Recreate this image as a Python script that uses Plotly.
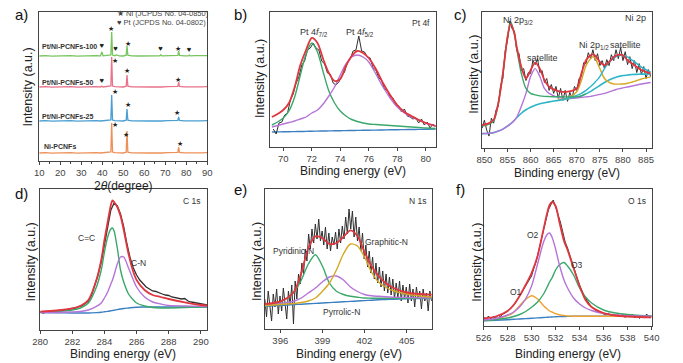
import numpy as np
import plotly.graph_objects as go

W, H = 683, 363

# ---------------- (a) XRD ----------------
XRD_2THETA = [10, 13, 16, 19, 22, 25, 28, 31, 34, 37, 39.2, 39.8, 40.4, 42, 44.1, 44.5, 44.9, 46, 46.8, 48,
              50, 51.4, 51.8, 52.2, 54, 57, 60, 63, 66, 67.4, 67.9, 68.4, 71, 74, 76.0, 76.4, 76.8, 79,
              81.0, 81.5, 82.0, 84, 87, 90]
XRD_NI = [8, 8.3, 7.8, 8.2, 8, 8.4, 7.9, 8.2, 8, 8.3, 8, 8.2, 8, 8.3, 9, 38, 9, 8.3, 8, 8.2,
          8, 8.8, 30, 8.8, 8.2, 8, 8.3, 8, 8.2, 8, 8.2, 8, 8.3, 8.1, 8.6, 14, 8.6, 8.2,
          8, 8.2, 8, 8.3, 8.1, 8.4]
XRD_25 = [40, 40.3, 39.8, 40.2, 40, 40.4, 39.9, 40.2, 40, 40.3, 40, 40.2, 40, 40.3, 41, 66, 41, 40.3, 40, 40.2,
          40, 40.8, 52, 40.8, 40.2, 40, 40.3, 40, 40.2, 40, 40.2, 40, 40.3, 40.1, 40.6, 44, 40.6, 40.2,
          40, 40.2, 40, 40.3, 40.1, 40.4]
XRD_50 = [74, 74.3, 73.8, 74.2, 74, 74.4, 73.9, 74.2, 74, 74.3, 74, 75, 74, 74.3, 75, 104, 75, 74.3, 74, 74.2,
          74, 74.8, 86, 74.8, 74.2, 74, 74.3, 74, 74.2, 74, 74.2, 74, 74.3, 74.1, 74.6, 79, 74.6, 74.2,
          74, 74.2, 74, 74.3, 74.1, 74.4]
XRD_100 = [105, 105.3, 104.8, 105.2, 105, 105.4, 104.9, 105.2, 105, 105.3, 105.2, 109, 105.2, 105.3, 106, 129, 106, 105.3, 106, 105.2,
           105, 105.8, 115, 105.8, 105.2, 105, 105.3, 105, 105.2, 105.1, 106.2, 105.1, 105.3, 105.1, 105.6, 110, 105.6, 105.2,
           105.1, 106, 105.1, 105.3, 105.1, 105.4]
XRD_NAMES = ["Ni-PCNFs", "Pt/Ni-PCNFs-25", "Pt/Ni-PCNFs-50", "Pt/Ni-PCNFs-100"]
XRD_COLORS = ["#ee9158", "#4b9fd2", "#e8738b", "#78c560"]
# reflection markers: (2theta, height)
NI_STARS = [(46.3, 36), (51.4, 26), (76.8, 17), (46.3, 69), (52.3, 56), (75.4, 48),
            (46.3, 100), (51.7, 90), (76.0, 81), (44.4, 132), (52.2, 117), (76.0, 112)]
PT_HEARTS = [(39.8, 80), (39.8, 115), (46.3, 112), (67.7, 112), (81.3, 111)]

# ---------------- (b) Pt 4f ----------------
B_RAW_START, B_RAW_STEP = 69.3, 0.2
B_RAW = [18, 13, 24, 25, 32, 34, 47, 53, 64, 70, 82, 86, 97, 99, 104, 99, 97, 86, 83, 74, 73, 64, 62, 65,
         71, 75, 85, 88, 96, 97, 111, 96, 95, 90, 89, 79, 77, 69, 67, 58, 57, 50, 49, 42, 41, 35, 38, 31,
         30, 28, 29, 24, 28, 22, 25, 19, 23, 20]
B_X = [69.2, 69.6, 70, 70.4, 70.8, 71.2, 71.6, 72.0, 72.4, 72.8, 73.2, 73.6, 74, 74.4, 74.8, 75.2, 75.6, 76,
       76.5, 77, 77.5, 78, 78.5, 79, 79.5, 80, 80.7]
B_BG = [15, 15.1, 15.2, 15.3, 15.4, 15.5, 15.6, 15.8, 15.9, 16.0, 16.1, 16.2, 16.3, 16.4, 16.5, 16.6, 16.7, 16.8,
        16.9, 17.0, 17.2, 17.3, 17.4, 17.5, 17.6, 17.8, 18]
B_P72 = [22, 25, 29, 36, 50, 72, 93, 104, 95, 75, 56, 44, 36, 31, 27.5, 25.5, 24, 23, 22.5, 22, 21.5, 21, 20.5,
         20, 19.5, 19, 18.5]
B_P75 = [20, 21.5, 23, 24.5, 26, 28, 30, 34, 37, 43, 51, 60, 72, 83, 90, 92, 90, 85, 73, 60, 49, 40, 34, 30,
         27, 24, 21]
B_FIT = [30, 33, 37, 44, 60, 82, 97, 109, 104, 88, 74, 66, 68, 81, 91, 96, 94, 89, 78, 64, 52, 42, 35, 31,
         27, 24, 21]

# ---------------- (c) Ni 2p ----------------
C_RAW_START, C_RAW_STEP = 849.5, 0.5
C_RAW = [20, 28, 18, 12, 30, 25, 38, 42, 63, 70, 98, 108, 128, 120, 118, 98, 95, 78, 80, 68, 76, 75, 88, 84,
         90, 76, 78, 66, 70, 58, 64, 55, 62, 50, 60, 48, 58, 47, 56, 50, 62, 58, 70, 72, 86, 85, 96, 90,
         99, 88, 95, 83, 88, 80, 89, 83, 94, 88, 99, 90, 101, 88, 97, 84, 92, 80, 88, 76, 85, 74, 82, 70,
         79, 72]
C_X = [849.5, 851, 852, 853, 854, 855, 855.7, 856.5, 857, 858, 859, 860, 861, 862, 863, 864, 866, 868, 870,
       871, 872, 873, 873.5, 874, 875, 876, 877, 878, 879, 879.5, 880, 881, 882, 883, 884, 886]
C_BG = [14.5, 14.8, 15.5, 17, 19, 22, 24.5, 28, 30.5, 35, 38.5, 41, 43, 44.5, 45.5, 46.5, 48, 49.5, 51,
        52.5, 54.5, 57, 58.5, 60, 63, 66, 68.5, 70.5, 72, 72.5, 73, 73.5, 74, 74.2, 74.4, 74.5]
C_P856 = [22, 24, 27, 45, 75, 112, 127, 115, 100, 75, 60, 55, 53.5, 52.5, 52, 51.8, 51.6, 51.5, 51.5,
          52.5, 54.5, None, None, None, None, None, None, None, None, None, None, None, None, None, None, None]
C_P861 = [14.5, 14.8, 15.5, 17, 19, 22, 24.5, 28, 31, 42, 55, 72, 80, 72, 60, 55, 51, 50, 50.5,
          51, 51.5, 52, 52.5, 53, 54, 55, 56.5, 58, 59.5, 60, 60.5, 61.5, 62.5, 63.5, 64.5, 66]
C_P873 = [None, None, None, None, None, None, None, None, None, None, None, None, None, None, None, None, 49, 50, 56.7,
          68, 83, 90, 92, 90, 80, 70, 66, 64.5, 64.3, 64.4, 64.5, 65.2, 66.5, 68, 69.5, 71.7]
C_P880 = [None, None, None, None, None, None, None, None, None, None, None, None, None, None, None, None, 48, 50, 53,
          55, 58, 62, 64, 66.5, 72, 80, 86, 90.5, 93, 93.4, 93.2, 91.7, 88.5, 85, 81.5, 76.5]
C_FIT = [23, 25, 28.4, 45, 75, 111.7, 125, 115, 101.7, 81.7, 70, 78.4, 86, 80, 68.4, 61.7, 57.4, 56.7, 60,
         75, 88.4, 93.5, 94.4, 93, 86.7, 83.4, 86.7, 91.7, 93.8, 94, 93.5, 88.4, 85, 81.7, 78.5, 75]

# ---------------- (d) C 1s ----------------
D_RAW_START, D_RAW_STEP = 280.0, 0.2
D_RAW = [18, 17, 18.5, 17.5, 19, 18.5, 19.5, 20, 19.5, 21, 21.5, 22, 23.5, 24, 26.5, 29, 35, 44, 55, 68,
         86, 104, 120, 127, 124, 116, 103, 86, 72, 62, 55, 50, 46, 43, 41, 39, 38.5, 37, 36, 35,
         34.5, 33, 32.5, 32, 31, 31.5, 29, 28, 27.5, 26.5, 26, 25.5, 25]
D_X = [280, 281, 282, 282.5, 283, 283.5, 283.8, 284, 284.2, 284.4, 284.5, 284.6, 284.8, 285, 285.2, 285.5,
       285.8, 286, 286.5, 287, 287.5, 288, 289, 290, 290.4]
D_BG = [17.4, 17.2, 17, 17, 17, 17.4, 17.8, 18.2, 18.6, 19.2, 19.5, 19.8, 20.4, 21, 21.5, 22, 22.5, 22.7,
        23, 23, 23, 23, 23, 23, 23]
D_CC = [18, 18.5, 20, 22, 27, 43, 60, 78, 93, 101, 102, 99, 82, 60, 48, 36, 30, 27, 24, 22.5, 22, 22, 22.5,
        23, 23]
D_CN = [17.4, 17.5, 18, 18.5, 20, 23.6, 27, 32, 38, 46, 50, 55, 66, 73, 73, 62, 50, 43, 33, 28, 26, 24.5,
        24, 23.7, 23.5]
D_FIT = [18.3, 19.5, 21.7, 24, 30, 50, 70, 90, 108, 125, 129.7, 128, 123, 114, 100, 76, 58, 50, 40, 35, 33,
         31, 27.7, 25, 24.5]

# ---------------- (e) N 1s ----------------
E_RAW_START, E_RAW_STEP = 394.9, 0.12
E_RAW = [30, 12, 38, 20, 8, 35, 22, 40, 15, 33, 18, 41, 25, 10, 38, 24, 44, 5, 48, 30,
         55, 45, 66, 55, 80, 68, 95, 80, 100, 86, 105, 90, 110, 88, 98, 84, 102, 80, 96, 78,
         92, 84, 97, 80, 100, 86, 103, 90, 112, 95, 120, 100, 118, 92, 112, 88, 102, 78, 96, 70,
         84, 62, 78, 56, 72, 50, 66, 46, 62, 42, 58, 38, 55, 36, 52, 34, 50, 30, 46, 31,
         48, 28, 44, 30, 42, 26, 45, 28, 40, 22, 42, 30, 38, 20, 40, 28, 36, 18, 38, 28]
E_X = [394.9, 395.5, 396, 396.5, 397, 397.5, 398, 398.5, 399, 399.5, 400, 400.5, 401, 401.5, 402, 402.5,
       403, 403.5, 404, 405, 406, 406.8]
E_BG = [22.7, 23.2, 23.6, 24, 24.4, 24.8, 25.2, 25.6, 26, 26.4, 26.8, 27.2, 27.6, 28, 28.4, 28.8, 29.2,
        29.5, 29.8, 30.2, 30.5, 30.7]
E_PYRIDINIC = [23, 24.5, 27, 31, 37.3, 49, 65, 74.3, 63, 46, 37.7, 34.5, 32.7, 31.8, 31, 30.8, 30.7, 30.7,
               30.7, 30.7, 30.7, 30.7]
E_PYRROLIC = [23.5, 24.5, 25.5, 26.5, 28, 31, 36, 41, 47, 52, 53, 49, 42, 37.5, 34.5, 33.2, 32.7, 32.2,
              31.8, 31.5, 31.2, 31]
E_GRAPHITIC = [23.5, 24, 24.5, 25, 25.5, 26.5, 28, 31, 37.7, 46, 59, 75, 85, 83, 72, 57, 47, 42, 38.5, 35,
               33, 32]
E_FIT = [25, 26, 27.7, 31, 37.7, 56, 81, 92.7, 91, 85, 86, 92, 98.7, 93, 77, 63, 53, 46, 41.5, 36.5, 35,
         34.3]

# ---------------- (f) O 1s ----------------
F_RAW_START, F_RAW_STEP = 526.0, 0.2
F_RAW = [9, 6, 10, 7, 9.5, 8, 11, 9, 12, 13, 15, 17, 19, 22, 26, 30, 35, 38, 42, 46,
         50, 58, 65, 76, 86, 96, 106, 116, 121, 126, 119, 112, 104, 94, 84, 78, 70, 63, 56, 48,
         41, 35, 30, 26, 22, 19, 17.5, 15, 14.5, 13, 12, 11, 13, 10, 12, 9, 11.5, 9, 12, 8.5,
         11, 9, 12, 8, 10.5, 7.5, 11, 9, 12, 8, 10]
F_X = [526, 527, 528, 528.5, 529, 529.5, 530, 530.5, 531, 531.3, 531.5, 531.7, 532, 532.3, 532.7, 533,
       533.5, 534, 534.5, 535, 536, 537, 538, 539, 540]
F_BG = [5.3, 5.8, 6.3, 6.7, 7, 7.4, 7.7, 8.1, 8.5, 8.7, 8.9, 9.0, 9.3, 9.4, 9.5, 9.6, 9.7, 9.7, 9.7, 9.7,
        9.7, 9.7, 9.7, 9.7, 9.7]
F_O1 = [5.5, 7, 10.3, 13.5, 20.3, 26.5, 30.3, 27, 20.3, 17, 15, 14, 12.3, 11.2, 10.5, 10, 9.8, 9.7, 9.7,
        9.7, 9.7, 9.7, 9.7, 9.7, 9.7]
F_O2 = [6, 7.5, 11, 14, 19, 27, 40, 62, 84, 91.5, 93, 89, 77, 62, 46, 38, 28, 22, 18, 15.5, 12.5, 11, 10.3,
        10, 9.8]
F_O3 = [5.5, 6.5, 8, 9.5, 11.5, 14.5, 18.7, 24, 32, 39, 44, 48, 56, 61, 63.5, 60, 51, 38, 29, 23, 16, 13,
        11.5, 10.5, 10]
F_FIT = [7.7, 9.5, 15, 21, 30, 41, 53, 70, 97, 113, 121, 124, 120, 105, 85, 76, 58, 40, 26, 19, 13, 10.5,
         9.5, 9, 8.7]

# ---------------- styling ----------------
FONT = "Arial, Liberation Sans, Helvetica, sans-serif"
RAW_C = "#2f2f2f"
RED = "#e0363e"
GREEN = "#3aa86a"
PURPLE = "#b674d8"
BLUE = "#3c80c2"
CYAN = "#2cb6c8"
YELLOW = "#d4a824"
ORANGE = "#f0a232"

# panel frames in pixels: (left, right, top, bottom), x range, y range, ticks
PANELS = [
    dict(px=(32, 204, 12, 161), xr=[10, 90], yr=[0, 149], tv=list(range(10, 91, 10))),
    dict(px=(268, 438, 12, 147), xr=[69.05, 80.7], yr=[0, 135], tv=[70, 72, 74, 76, 78, 80]),
    dict(px=(485, 659, 12, 148), xr=[849.4, 886.2], yr=[0, 137], tv=[850, 855, 860, 865, 870, 875, 880, 885]),
    dict(px=(33, 204, 189, 330), xr=[280, 290.4], yr=[0, 141], tv=[280, 282, 284, 286, 288, 290]),
    dict(px=(263, 434, 189, 329), xr=[394.9, 406.8], yr=[0, 140], tv=[396, 399, 402, 405]),
    dict(px=(487, 659, 189, 326), xr=[526, 540], yr=[0, 137], tv=list(range(526, 541, 2))),
]

fig = go.Figure()
layout = dict(width=W, height=H, margin=dict(l=0, r=0, t=0, b=0), paper_bgcolor="white",
              plot_bgcolor="white", showlegend=False, font=dict(family=FONT, color="#333"))
for i, p in enumerate(PANELS):
    k = "" if i == 0 else str(i + 1)
    l, r, t, b = p["px"]
    xa = dict(domain=[l / W, r / W], range=p["xr"], tickvals=p["tv"], ticks="outside", ticklen=3,
              tickcolor="#444", showline=True, linecolor="#444", linewidth=1, mirror=True,
              showgrid=False, zeroline=False, anchor="y" + k,
              tickfont=dict(size=9.5, color="#444", family=FONT))
    if i == 0:
        xa["minor"] = dict(dtick=5, ticks="outside", ticklen=2, tickcolor="#444")
    ya = dict(domain=[1 - b / H, 1 - t / H], range=p["yr"], showticklabels=False, ticks="",
              showline=True, linecolor="#444", linewidth=1, mirror=True, showgrid=False,
              zeroline=False, anchor="x" + k)
    layout["xaxis" + k] = xa
    layout["yaxis" + k] = ya


def ax(i):
    k = "" if i == 0 else str(i + 1)
    return dict(xaxis="x" + k, yaxis="y" + k)


def line(i, x, y, color, width=1.4, shape="spline"):
    fig.add_trace(go.Scatter(x=x, y=y, mode="lines", line=dict(color=color, width=width, shape=shape,
                                                                smoothing=0.8 if shape == "spline" else None),
                             hoverinfo="skip", connectgaps=False, **ax(i)))


def raw_x(start, step, vals):
    return list(np.round(start + step * np.arange(len(vals)), 3))


# (a)
for ys, c in zip([XRD_NI, XRD_25, XRD_50, XRD_100], XRD_COLORS):
    line(0, XRD_2THETA, ys, c, width=1.3, shape="linear")
fig.add_trace(go.Scatter(x=[s[0] for s in NI_STARS], y=[s[1] for s in NI_STARS], mode="text", text=["★"] * len(NI_STARS),
                         textfont=dict(size=6.5, color="#222"), hoverinfo="skip", **ax(0)))
fig.add_trace(go.Scatter(x=[s[0] for s in PT_HEARTS], y=[s[1] for s in PT_HEARTS], mode="text", text=["♥"] * len(PT_HEARTS),
                         textfont=dict(size=7.5, color="#222"), hoverinfo="skip", **ax(0)))

# (b)
line(1, B_X, B_BG, BLUE)
line(1, raw_x(B_RAW_START, B_RAW_STEP, B_RAW), B_RAW, RAW_C, width=1, shape="linear")
line(1, B_X, B_P72, GREEN)
line(1, B_X, B_P75, PURPLE)
line(1, B_X, B_FIT, RED, width=1.8)

# (c)
line(2, raw_x(C_RAW_START, C_RAW_STEP, C_RAW), C_RAW, RAW_C, width=1, shape="linear")
line(2, C_X, C_BG, CYAN, width=1.6)
line(2, C_X, C_P861, PURPLE)
line(2, C_X, C_P873, YELLOW)
line(2, C_X, C_P880, CYAN)
line(2, C_X, C_P856, GREEN)
line(2, C_X, C_FIT, RED, width=1.8)

# (d)
line(3, D_X, D_BG, BLUE)
line(3, raw_x(D_RAW_START, D_RAW_STEP, D_RAW), D_RAW, RAW_C, width=1.3, shape="linear")
line(3, D_X, D_CC, GREEN)
line(3, D_X, D_CN, PURPLE)
line(3, D_X, D_FIT, RED, width=1.8)

# (e)
line(4, raw_x(E_RAW_START, E_RAW_STEP, E_RAW), E_RAW, RAW_C, width=1, shape="linear")
line(4, E_X, E_BG, BLUE)
line(4, E_X, E_PYRIDINIC, GREEN)
line(4, E_X, E_PYRROLIC, PURPLE)
line(4, E_X, E_GRAPHITIC, YELLOW)
line(4, E_X, E_FIT, RED, width=1.8)

# (f)
line(5, raw_x(F_RAW_START, F_RAW_STEP, F_RAW), F_RAW, RAW_C, width=1, shape="linear")
line(5, F_X, F_BG, BLUE)
line(5, F_X, F_O1, ORANGE)
line(5, F_X, F_O3, GREEN)
line(5, F_X, F_O2, PURPLE)
line(5, F_X, F_FIT, RED, width=1.8)

ann = []


def txt(px, py, s, size=9, xanchor="center", color="#333", angle=0, bold=False):
    if bold:
        s = "<b>" + s + "</b>"
    ann.append(dict(x=px / W, y=1 - py / H, xref="paper", yref="paper", text=s, showarrow=False,
                    xanchor=xanchor, yanchor="middle", textangle=angle,
                    font=dict(size=size, color=color, family=FONT)))


# panel letters
for px, py, s in [(14, 15, "a)"), (238, 15, "b)"), (463, 15, "c)"), (14, 193, "d)"), (238, 190, "e)"), (463, 190, "f)")]:
    txt(px, py, s, size=15, color="#111")

# y titles
for px, py in [(20, 87), (258, 78), (477, 74), (24, 262), (255, 262), (480, 262)]:
    txt(px, py, "Intensity (a.u.)", size=12.5, angle=-90, color="#222")
# x titles
txt(118, 186, "2<i>θ</i>(degree)", size=12, color="#222")
txt(353, 171, "Binding energy (eV)", size=12, color="#222")
txt(572, 173, "Binding energy (eV)", size=12, color="#222")
txt(118, 354, "Binding energy (eV)", size=12, color="#222")
txt(349, 354, "Binding energy (eV)", size=12, color="#222")
txt(573, 354, "Binding energy (eV)", size=12, color="#222")

# (a) labels
txt(110, 14, "★ Ni (JCPDS No. 04-0850)", size=7.5, xanchor="left", color="#444")
txt(110, 23, "♥ Pt (JCPDS No. 04-0802)", size=7.5, xanchor="left", color="#444")
txt(33, 47, "Pt/Ni-PCNFs-100", size=7, xanchor="left", bold=True)
txt(33, 82, "Pt/Ni-PCNFs-50", size=7, xanchor="left", bold=True)
txt(33, 116, "Pt/Ni-PCNFs-25", size=7, xanchor="left", bold=True)
txt(35, 146, "Ni-PCNFs", size=7, xanchor="left", bold=True)

# (b)
txt(313, 32, "Pt 4<i>f</i><sub>7/2</sub>", size=9)
txt(360, 32, "Pt 4<i>f</i><sub>5/2</sub>", size=9)
txt(434, 23, "Pt 4f", size=8.5, xanchor="right")
# (c)
txt(522, 20, "Ni 2p<sub>3/2</sub>", size=9)
txt(547, 58, "satellite", size=9)
txt(600, 45, "Ni 2p<sub>1/2</sub>", size=9)
txt(632, 45, "satellite", size=9)
txt(655, 18, "Ni 2p", size=9, xanchor="right")
# (d)
txt(80, 238, "C=C", size=8.5)
txt(134, 263, "C-N", size=8.5)
txt(199, 201, "C 1s", size=8.5, xanchor="right")
# (e)
txt(292, 251, "Pyridinic-N", size=8.5)
txt(388, 242, "Graphitic-N", size=8.5)
txt(342, 312, "Pyrrolic-N", size=8.5)
txt(430, 201, "N 1s", size=8.5, xanchor="right")
# (f)
txt(520, 292, "O1", size=8.5)
txt(538, 235, "O2", size=8.5)
txt(583, 265, "O3", size=8.5)
txt(655, 201, "O 1s", size=8.5, xanchor="right")

layout["annotations"] = ann
fig.update_layout(**layout)
fig.write_html("out.html", config={"displayModeBar": False},
               post_script="document.body.style.margin='0px';document.body.style.overflow='hidden';")
